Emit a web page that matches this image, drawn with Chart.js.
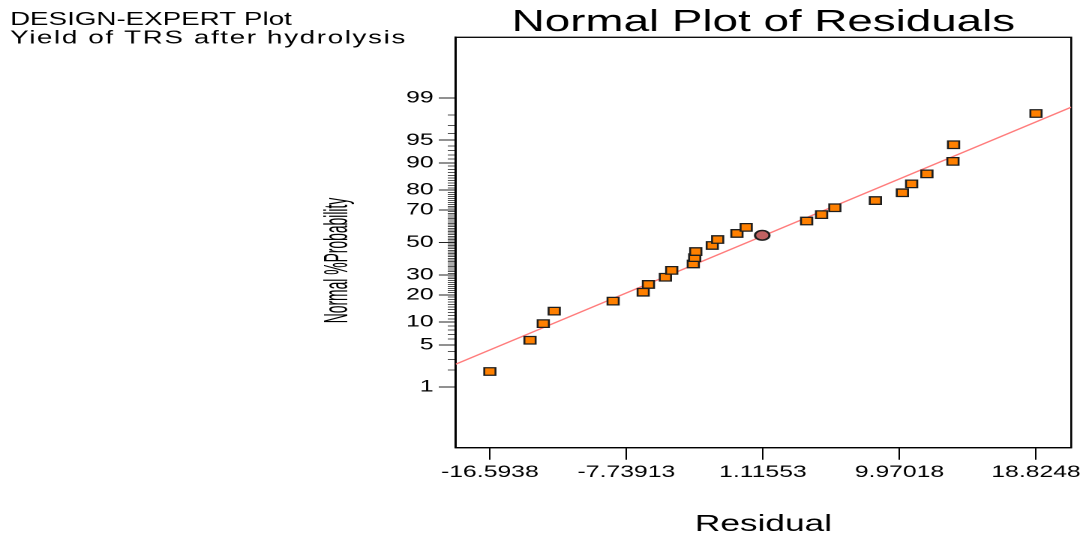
<!DOCTYPE html>
<html>
<head>
<meta charset="utf-8">
<script src="https://cdn.jsdelivr.net/npm/chart.js@4.4.1/dist/chart.umd.min.js"></script>
<style>
  html, body { margin: 0; padding: 0; background: #fff; overflow: hidden; }
  #wrap { width: 724px; height: 533px; transform: scaleX(1.5); transform-origin: 0 0; }
</style>
</head>
<body>
<div id="wrap"><canvas id="c" width="724" height="533"></canvas></div>
<script>
// Residuals (sorted) and their normal % probabilities
const residuals = [-16.5938, -13.99, -13.13, -12.42, -8.60, -6.65, -6.31, -5.21, -4.80, -3.40,
  -3.31, -3.24, -2.17, -1.82, -0.57, 0.03, 3.95, 4.92, 5.78, 8.41,
  10.16, 10.76, 11.75, 13.44, 13.48, 18.8248];
const normalPct = [1.9, 5.8, 9.6, 13.5, 17.3, 21.2, 25.0, 28.8, 32.7, 36.5,
  40.4, 44.2, 48.1, 51.9, 55.8, 59.6, 63.5, 67.3, 71.2, 75.0,
  78.8, 82.7, 86.5, 90.4, 94.2, 98.1];

// Highlighted design point
const markedResidual = [1.07];
const markedPct = [54.6];

// Reference line end points
const lineResidual = [-18.81, 21.11];
const linePct = [2.52, 98.52];

// Axis ticks
const xTickValues = [-16.5938, -7.73913, 1.11553, 9.97018, 18.8248];
const xTickLabels = ['-16.5938', '-7.73913', '1.11553', '9.97018', '18.8248'];
const yTickLabels = ['1', '5', '10', '20', '30', '50', '70', '80', '90', '95', '99'];

const FONT = '"Liberation Sans", Arial, Helvetica, sans-serif';
const SX = 1.5; // horizontal stretch applied to the canvas element

// inverse of the standard normal CDF (Acklam)
function probit(p) {
  const a = [-3.969683028665376e+01, 2.209460984245205e+02, -2.759285104469687e+02, 1.383577518672690e+02, -3.066479806614716e+01, 2.506628277459239e+00];
  const b = [-5.447609879822406e+01, 1.615858368580409e+02, -1.556989798598866e+02, 6.680131188771972e+01, -1.328068155288572e+01];
  const c = [-7.784894002430293e-03, -3.223964580411365e-01, -2.400758277161838e+00, -2.549732539343734e+00, 4.374664141464968e+00, 2.938163982698783e+00];
  const d = [7.784695709041462e-03, 3.224671290700398e-01, 2.445134137142996e+00, 3.754408661907416e+00];
  const pl = 0.02425, ph = 1 - pl;
  let q, r;
  if (p < pl) {
    q = Math.sqrt(-2 * Math.log(p));
    return (((((c[0]*q+c[1])*q+c[2])*q+c[3])*q+c[4])*q+c[5]) / ((((d[0]*q+d[1])*q+d[2])*q+d[3])*q+1);
  }
  if (p <= ph) {
    q = p - 0.5; r = q * q;
    return (((((a[0]*r+a[1])*r+a[2])*r+a[3])*r+a[4])*r+a[5])*q / (((((b[0]*r+b[1])*r+b[2])*r+b[3])*r+b[4])*r+1);
  }
  q = Math.sqrt(-2 * Math.log(1 - p));
  return -(((((c[0]*q+c[1])*q+c[2])*q+c[3])*q+c[4])*q+c[5]) / ((((d[0]*q+d[1])*q+d[2])*q+d[3])*q+1);
}

const toPoints = (xs, ps) => xs.map((x, i) => ({ x: x, y: probit(ps[i] / 100) }));

// probability axis: a tick at every whole percent, labels on the main ones
const yTickPct = [];
for (let p = 1; p <= 99; p++) yTickPct.push(p);
const isMajorPct = p => yTickLabels.includes(String(p));

const textPlugin = {
  id: 'frameAndText',
  beforeDatasetsDraw(chart) {
    const { ctx, chartArea: a } = chart;
    ctx.save();
    ctx.strokeStyle = '#000';
    ctx.lineWidth = 1.3;
    ctx.strokeRect(a.left, a.top, a.right - a.left, a.bottom - a.top);
    ctx.restore();
  },
  afterDraw(chart) {
    const { ctx, chartArea: a } = chart;
    const cx = (a.left + a.right) / 2;
    ctx.save();
    ctx.fillStyle = '#000';
    ctx.textBaseline = 'alphabetic';

    ctx.textAlign = 'left';
    ctx.font = '18.5px ' + FONT;
    ctx.fillText('DESIGN-EXPERT Plot', 6.7, 25);
    ctx.letterSpacing = '1.1px';
    ctx.fillText('Yield of TRS after hydrolysis', 6.7, 43.5);
    ctx.letterSpacing = '0px';

    ctx.textAlign = 'center';
    ctx.font = '30.5px ' + FONT;
    ctx.fillText('Normal Plot of Residuals', cx, 31);

    ctx.font = '23.5px ' + FONT;
    ctx.fillText('Residual', cx, 531);

    ctx.translate(338 / SX, 260.5);
    ctx.rotate(-Math.PI / 2);
    ctx.scale(0.63, 1);
    ctx.font = '22px ' + FONT;
    ctx.textBaseline = 'middle';
    ctx.fillText('Normal %Probability', 0, 0);
    ctx.restore();
  }
};

new Chart(document.getElementById('c'), {
  type: 'scatter',
  data: {
    datasets: [
      {
        data: toPoints(lineResidual, linePct),
        showLine: true,
        borderColor: '#ff7b7b',
        borderWidth: 1.3,
        pointRadius: 0,
        order: 3
      },
      {
        data: toPoints(residuals, normalPct),
        pointStyle: 'rect',
        pointRadius: 5.3,
        backgroundColor: '#ff8000',
        borderColor: '#1e1e1e',
        borderWidth: 1.3,
        order: 2
      },
      {
        data: toPoints(markedResidual, markedPct),
        pointStyle: 'circle',
        pointRadius: 4.8,
        backgroundColor: '#c06262',
        borderColor: '#1e1e1e',
        borderWidth: 1.5,
        order: 1
      }
    ]
  },
  options: {
    responsive: false,
    animation: false,
    devicePixelRatio: 2,
    layout: { padding: { top: 37.3, right: 9.1, left: 0, bottom: 0 } },
    plugins: { legend: { display: false }, tooltip: { enabled: false } },
    scales: {
      x: {
        type: 'linear',
        min: -18.81,
        max: 21.11,
        afterBuildTicks: s => { s.ticks = xTickValues.map(v => ({ value: v })); },
        afterFit: s => { s.height = 85.3; },
        grid: { drawOnChartArea: false, tickLength: 12, color: '#000', tickWidth: 1 },
        border: { display: true, color: '#000', width: 1.3 },
        ticks: {
          autoSkip: false, maxRotation: 0, padding: 3, color: '#000',
          font: { family: FONT, size: 16.5 },
          callback: (v, i) => xTickLabels[i]
        }
      },
      y: {
        type: 'linear',
        min: -3.30,
        max: 3.30,
        afterBuildTicks: s => { s.ticks = yTickPct.map(p => ({ value: probit(p / 100) })); },
        afterFit: s => { s.width = 303.8; },
        grid: {
          drawOnChartArea: false,
          tickLength: 11.3,
          tickWidth: 1,
          tickColor: c => isMajorPct(yTickPct[c.index]) ? '#222' : '#555',
          tickBorderDash: c => isMajorPct(yTickPct[c.index]) ? [] : [5.3, 6],
          tickBorderDashOffset: c => isMajorPct(yTickPct[c.index]) ? 0 : 5.3
        },
        border: { display: true, color: '#000', width: 1.3 },
        ticks: {
          autoSkip: false, padding: 3.4, color: '#000',
          font: { family: FONT, size: 16.5 },
          callback: (v, i) => isMajorPct(yTickPct[i]) ? String(yTickPct[i]) : ''
        }
      }
    }
  },
  plugins: [textPlugin]
});
</script>
</body>
</html>
